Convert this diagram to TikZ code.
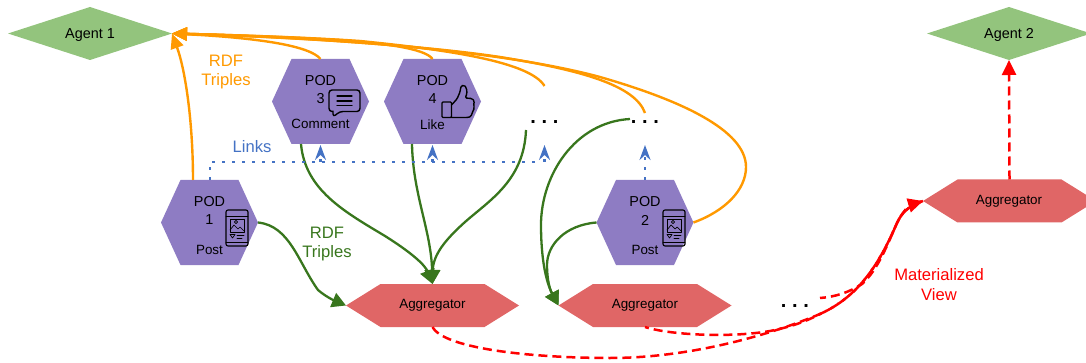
\documentclass[tikz,border=0pt]{standalone}
\usepackage{fontspec}
\setmainfont{Liberation Sans}
\usetikzlibrary{arrows.meta,calc,shapes.geometric}
\definecolor{podc}{HTML}{8E7CC3}
\definecolor{aggc}{HTML}{E06666}
\definecolor{agentc}{HTML}{93C47D}
\definecolor{orangec}{HTML}{FF9900}
\definecolor{greenc}{HTML}{38761D}
\definecolor{bluec}{HTML}{4472C4}
\tikzset{
  hexfill/.style 2 args={path picture={\fill[#1]
     (path picture bounding box.west)
     -- ($(path picture bounding box.north west)+(#2,0pt)$)
     -- ($(path picture bounding box.north east)+(-#2,0pt)$)
     -- (path picture bounding box.east)
     -- ($(path picture bounding box.south east)+(-#2,0pt)$)
     -- ($(path picture bounding box.south west)+(#2,0pt)$) -- cycle;}},
  podbox/.style={rectangle,minimum width=97pt,minimum height=85pt,inner sep=0pt,outer sep=0pt,hexfill={podc}{19.5pt}},
  aggbox/.style={rectangle,minimum width=173pt,minimum height=43pt,inner sep=0pt,outer sep=0pt,hexfill={aggc}{34.5pt}},
  agentbox/.style={diamond,aspect=3.1,minimum width=164pt,minimum height=53pt,inner sep=0pt,outer sep=0pt,fill=agentc,draw=none},
  txt/.style={font=\fontsize{14.4}{16}\selectfont,inner sep=0pt},
  small/.style={font=\fontsize{13.4}{15}\selectfont,inner sep=0pt},
  big/.style={font=\fontsize{16.6}{18}\selectfont,inner sep=0pt},
  dotsty/.style={font=\fontsize{20}{22}\bfseries\selectfont,inner sep=0pt},
  orangeline/.style={orangec,line width=2.4pt},
  orangearrow/.style={orangeline,-{Triangle[length=15pt,width=13pt]}},
  greenline/.style={greenc,line width=2.3pt,-{Triangle[length=14pt,width=15pt]}},
  linkline/.style={bluec,line width=2.4pt,dash pattern=on 2.6pt off 7.4pt},
  linkarrow/.style={linkline,-{Stealth[length=15pt,width=11pt,inset=5pt,bluec]}},
  redline/.style={red,line width=2.5pt,dash pattern=on 9pt off 5pt},
  iconline/.style={black,line width=1.1pt,line join=round,line cap=round},
}
\newcommand{\phoneicon}[2]{%
  \begin{scope}[shift={(#1,#2)},iconline]
    \draw[rounded corners=2pt] (0,0) rectangle (22,36);
    \draw[line width=.7pt] (0,6) -- (22,6) (0,32) -- (22,32);
    \draw[line width=.7pt] (4,9) rectangle (18,22);
    \draw[line width=.7pt] (4,20) -- (8,15) -- (12,19) -- (14,17) -- (18,21);
    \draw[line width=.6pt] (10,12) circle (1.6);
    \draw[line width=.7pt] (4,24.5) -- (9,24.5) -- (6.5,28) -- cycle;
    \draw[line width=.7pt] (11,25) -- (18,25) (11,28) -- (16,28);
  \end{scope}}
\begin{document}
\begin{tikzpicture}[x=1pt,y=-1pt]
\useasboundingbox (0,0) rectangle (1086,363);
\clip (0,0) rectangle (1086,363);
% agents
\node[agentbox] (agent1) at (90,33.5) {};
\node[agentbox] (agent2) at (1009,33.5) {};
\node[txt] (agent1t) at (90,35) {Agent 1};
\node[txt] (agent2t) at (1009,35) {Agent 2};
% pods
\node[podbox] (pod3) at (320.5,101.5) {};
\node[podbox] (pod4) at (432.5,101.5) {};
\node[podbox] (pod1) at (209.5,222.5) {};
\node[podbox] (pod2) at (645,222.5) {};
% aggregators
\node[aggbox] (agg1) at (432.5,305.5) {};
\node[aggbox] (agg2) at (645,305.5) {};
\node[aggbox] (agg3) at (1009.5,201) {};
\node[small] (agg1t) at (432.5,305) {Aggregator};
\node[small] (agg2t) at (645,305) {Aggregator};
\node[small] (agg3t) at (1009,201) {Aggregator};
% dots
\node[dotsty,anchor=base] (dots1) at (544.5,123.5) {.\hspace{5.7pt}.\hspace{5.7pt}.};
\node[dotsty,anchor=base] (dots2) at (645,123.5) {.\hspace{5.7pt}.\hspace{5.7pt}.};
\node[dotsty,anchor=base] (dots3) at (795,307.5) {.\hspace{5.7pt}.\hspace{5.7pt}.};
% endpoints
\coordinate (d1top) at (544.5,86);
\coordinate (d2top) at (645,113);
\coordinate (d1bot) at (526,130);
\coordinate (d2left) at (630,119);
\coordinate (d3right) at (820,298);
\coordinate (p3foot) at ($(pod3.south)+(-19.5pt,0pt)$);
\coordinate (p4foot) at ($(pod4.south)+(-20.5pt,0pt)$);
\coordinate (p1top) at ($(pod1.north)+(-16.5pt,0pt)$);
\coordinate (h3) at (320.5,145);
\coordinate (h4) at (432.5,145);
\coordinate (h5) at (544.5,145);
\coordinate (h2) at (645,145);
\coordinate (lstart) at (210,180);
% orange connectors
\draw[orangearrow] (p1top) .. controls (193,125) and (186,72) .. (agent1.east);
\draw[orangearrow] (pod3.north) .. controls (310,46) and (260,38) .. (agent1.east);
\draw[orangearrow] (pod4.north) .. controls (425,48) and (380,43) .. (340,40) .. controls (290,37) and (230,35) .. (agent1.east);
\draw[orangearrow] (d1top) .. controls (530,62) and (450,50) .. (360,41) .. controls (300,37) and (230,35) .. (agent1.east);
\draw[orangearrow] (d2top) .. controls (635,85) and (580,70) .. (500,57) .. controls (420,45) and (290,37) .. (agent1.east);
\draw[orangearrow] (pod2.east) .. controls (725,211) and (746,190) .. (746,167) .. controls (746,130) and (680,100) .. (600,77) .. controls (500,50) and (330,38) .. (agent1.east);
% green connectors
\draw[greenline] (pod1.east) .. controls (290,226) and (298,262) .. (318,290) .. controls (325,296) and (333,300) .. (agg1.west);
\draw[greenline] (p3foot) .. controls (305,190) and (345,212) .. (385,236) .. controls (412,253) and (425,265) .. (agg1.north);
\draw[greenline] (p4foot) .. controls (413,195) and (431,230) .. (agg1.north);
\draw[greenline] (d1bot) .. controls (524,180) and (490,200) .. (465,222) .. controls (445,240) and (433,255) .. (agg1.north);
\draw[greenline] (d2left) .. controls (575,122) and (541,175) .. (541,225) .. controls (541,255) and (545,280) .. (agg2.west);
\draw[greenline] (pod2.west) .. controls (565,225) and (547,245) .. (547,265) .. controls (547,280) and (550,290) .. (agg2.west);
% link connectors
\draw[linkline] (lstart) -- (210,162) -- (540,162);
\draw[linkarrow] (320.5,162) -- (h3);
\draw[linkarrow] (432.5,162) -- (h4);
\draw[linkarrow] (544.5,162) -- (h5);
\draw[linkarrow] (pod2.north) -- (h2);
% red connectors
\draw[redline] (agg1.south) .. controls (445,350) and (540,358) .. (610,358) .. controls (690,358) and (770,335) .. (820,314) .. controls (860,296) and (880,262) .. (897,223) .. controls (902,212) and (910,205) .. (agg3.west);
\draw[redline,dash phase=5pt] (agg2.south) .. controls (670,335) and (730,338) .. (770,331) .. controls (790,327) and (805,322) .. (820,314) .. controls (860,296) and (880,262) .. (897,223) .. controls (902,212) and (910,205) .. (agg3.west);
\draw[redline,dash phase=3pt,-{Triangle[length=15pt,width=14pt]}] (d3right) .. controls (835,297) and (850,292) .. (862,284) .. controls (878,270) and (888,243) .. (897,223) .. controls (902,212) and (910,205) .. (agg3.west);
\draw[redline,-{Triangle[length=15pt,width=14pt]}] (agg3.north) -- (agent2.south);
% text
\node[big,text=orangec] (l1) at (226,61) {RDF};
\node[big,text=orangec] (l2) at (226,81) {Triples};
\node[big,text=greenc] (l3) at (327,233) {RDF};
\node[big,text=greenc] (l4) at (327,253) {Triples};
\node[big,text=bluec] (l5) at (252,146.5) {Links};
\node[big,text=red] (l6) at (939,275) {Materialized};
\node[big,text=red] (l7) at (939,295) {View};
% pod text
\node[txt] (p3a) at (320.5,81) {POD};
\node[txt] (p3b) at (320.5,99) {3};
\node[small] (p3c) at (320.5,124) {Comment};
\node[txt] (p4a) at (432.5,81) {POD};
\node[txt] (p4b) at (432.5,99) {4};
\node[small] (p4c) at (432.5,125) {Like};
\node[txt] (p1a) at (209.5,202) {POD};
\node[txt] (p1b) at (209.5,220) {1};
\node[small] (p1c) at (209.5,250) {Post};
\node[txt] (p2a) at (645,202) {POD};
\node[txt] (p2b) at (645,220) {2};
\node[small] (p2c) at (645,250) {Post};
% icons
\draw[iconline,line width=1.4pt,rounded corners=3pt] (333,111) -- (333,117) -- (340,111.5) -- (360,111.5) -- (360,90) -- (329,90) -- (329,111.5) -- (333,111.5);
\draw[iconline,line width=1.3pt] (337,96) -- (352,96) (337,101) -- (352,101) (337,105.5) -- (352,105.5);
\begin{scope}[iconline,line width=1.4pt]
  \draw[rounded corners=1pt] (442,102) rectangle (451.5,117.5);
  \draw[rounded corners=1.5pt] (451.5,105) -- (457,99) -- (460,92) -- (461,86) -- (464,85) -- (466.5,88) -- (467,94) -- (465,98) -- (472,98.5) -- (474.5,101) -- (473.5,105) -- (474.5,108) -- (472.5,112) -- (471,116.5) -- (468,117.5) -- (451.5,117.5);
\end{scope}
\phoneicon{226}{210}
\phoneicon{663}{210}
\end{tikzpicture}
\end{document}
